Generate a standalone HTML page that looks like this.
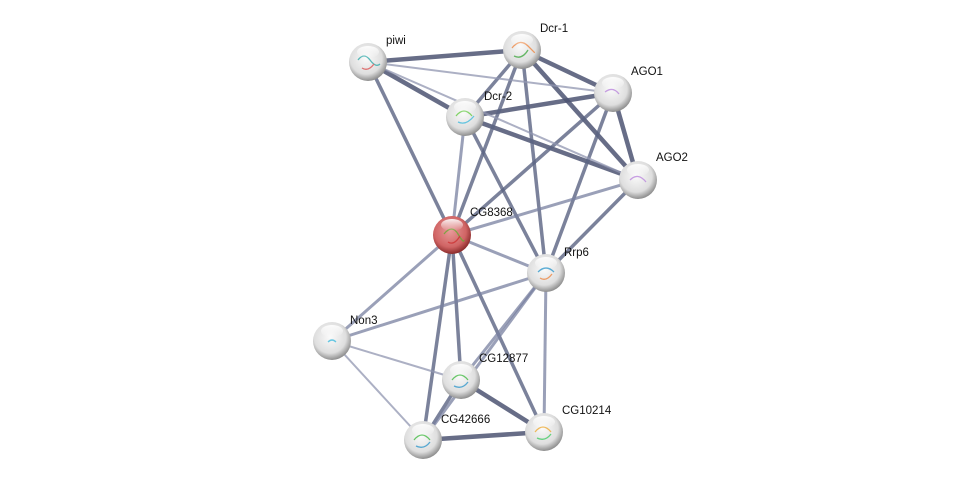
<!DOCTYPE html>
<html><head><meta charset="utf-8"><style>
html,body{margin:0;padding:0;background:#fff;width:976px;height:486px;overflow:hidden}
svg{display:block}
text{font-family:"Liberation Sans",sans-serif;font-size:11.5px;fill:#111}
</style></head><body>
<svg width="976" height="486" viewBox="0 0 976 486" xmlns="http://www.w3.org/2000/svg">
<defs>
<radialGradient id="g" cx="0.45" cy="0.4" r="0.6">
<stop offset="0" stop-color="#fafafa"/><stop offset="0.7" stop-color="#dedede"/><stop offset="1" stop-color="#8e8e8e"/>
</radialGradient>
<radialGradient id="r" cx="0.45" cy="0.4" r="0.6">
<stop offset="0" stop-color="#e89a9a"/><stop offset="0.7" stop-color="#d06464"/><stop offset="1" stop-color="#8a2a2a"/>
</radialGradient>
<linearGradient id="hl" x1="0" y1="0" x2="0" y2="1">
<stop offset="0" stop-color="#fff" stop-opacity="0.9"/><stop offset="1" stop-color="#fff" stop-opacity="0"/>
</linearGradient>
</defs>
<g stroke-linecap="butt">
<g stroke="#4c5472" stroke-opacity="0.85" stroke-width="4.5">
<line x1="368" y1="62" x2="522" y2="50"/>
<line x1="368" y1="62" x2="465" y2="117"/>
<line x1="465" y1="117" x2="613" y2="93"/>
<line x1="465" y1="117" x2="638" y2="180"/>
<line x1="522" y1="50" x2="613" y2="93"/>
<line x1="522" y1="50" x2="638" y2="180"/>
<line x1="613" y1="93" x2="638" y2="180"/>
<line x1="461" y1="380" x2="544" y2="432"/>
<line x1="423" y1="440" x2="544" y2="432"/>
</g>
<g stroke="#5a6382" stroke-opacity="0.8" stroke-width="3.5">
<line x1="368" y1="62" x2="452" y2="235"/>
<line x1="522" y1="50" x2="465" y2="117"/>
<line x1="522" y1="50" x2="452" y2="235"/>
<line x1="522" y1="50" x2="546" y2="273"/>
<line x1="613" y1="93" x2="452" y2="235"/>
<line x1="613" y1="93" x2="546" y2="273"/>
<line x1="465" y1="117" x2="546" y2="273"/>
<line x1="638" y1="180" x2="546" y2="273"/>
<line x1="452" y1="235" x2="423" y2="440"/>
<line x1="452" y1="235" x2="461" y2="380"/>
<line x1="452" y1="235" x2="544" y2="432"/>
<line x1="461" y1="380" x2="423" y2="440"/>
</g>
<g stroke="#7880a0" stroke-opacity="0.75" stroke-width="3">
<line x1="465" y1="117" x2="452" y2="235"/>
<line x1="638" y1="180" x2="452" y2="235"/>
<line x1="452" y1="235" x2="546" y2="273"/>
<line x1="546" y1="273" x2="332" y2="341"/>
<line x1="546" y1="273" x2="461" y2="380"/>
<line x1="546" y1="273" x2="423" y2="440"/>
<line x1="546" y1="273" x2="544" y2="432"/>
<line x1="452" y1="235" x2="332" y2="341"/>
</g>
<g stroke="#9096b0" stroke-opacity="0.75" stroke-width="2">
<line x1="368" y1="62" x2="613" y2="93"/>
<line x1="368" y1="62" x2="638" y2="180"/>
<line x1="332" y1="341" x2="461" y2="380"/>
<line x1="332" y1="341" x2="423" y2="440"/>
</g>
</g>
<g>
<circle cx="368" cy="62" r="19" fill="url(#g)"/>
<circle cx="522" cy="50" r="19" fill="url(#g)"/>
<circle cx="613" cy="93" r="19" fill="url(#g)"/>
<circle cx="465" cy="117" r="19" fill="url(#g)"/>
<circle cx="638" cy="180" r="19" fill="url(#g)"/>
<circle cx="452" cy="235" r="19" fill="url(#r)"/>
<circle cx="546" cy="273" r="19" fill="url(#g)"/>
<circle cx="332" cy="341" r="19" fill="url(#g)"/>
<circle cx="461" cy="380" r="19" fill="url(#g)"/>
<circle cx="423" cy="440" r="19" fill="url(#g)"/>
<circle cx="544" cy="432" r="19" fill="url(#g)"/>
</g>
<g fill="none" stroke-width="1.3" opacity="0.8">
<path d="M358 60 q6 -8 12 0 t10 4" stroke="#3aa"/><path d="M362 68 q6 4 12 -4" stroke="#d55"/>
<path d="M512 48 q8 -10 16 -2 t6 6" stroke="#e84"/><path d="M514 56 q8 4 14 -6" stroke="#4a4"/>
<path d="M605 92 q8 -6 14 2" stroke="#b8d"/>
<path d="M456 116 q8 -10 16 0" stroke="#6c4"/><path d="M458 122 q8 4 16 -6" stroke="#4bd"/>
<path d="M630 180 q8 -8 16 2" stroke="#b8d"/>
<path d="M444 234 q8 -10 14 0 t6 6" stroke="#6a3"/><path d="M448 242 q6 4 12 -6" stroke="#c33"/>
<path d="M538 272 q8 -8 16 0" stroke="#39c"/><path d="M540 278 q6 4 12 -4" stroke="#e84"/>
<path d="M328 342 q4 -4 8 0" stroke="#4bd"/>
<path d="M452 380 q8 -10 16 0" stroke="#4b4"/><path d="M454 386 q8 4 14 -4" stroke="#39c"/>
<path d="M414 440 q8 -10 16 0" stroke="#4b4"/><path d="M416 446 q8 4 14 -4" stroke="#39c"/>
<path d="M535 432 q8 -10 16 0" stroke="#ea3"/><path d="M537 438 q8 4 14 -4" stroke="#4c6"/>
</g>
<g fill="url(#hl)">
<ellipse cx="368" cy="52" rx="11" ry="6"/><ellipse cx="522" cy="40" rx="11" ry="6"/>
<ellipse cx="613" cy="83" rx="11" ry="6"/><ellipse cx="465" cy="107" rx="11" ry="6"/>
<ellipse cx="638" cy="170" rx="11" ry="6"/><ellipse cx="452" cy="225" rx="11" ry="6"/>
<ellipse cx="546" cy="263" rx="11" ry="6"/><ellipse cx="332" cy="331" rx="11" ry="6"/>
<ellipse cx="461" cy="370" rx="11" ry="6"/><ellipse cx="423" cy="430" rx="11" ry="6"/>
<ellipse cx="544" cy="422" rx="11" ry="6"/>
</g>
<text x="386" y="44">piwi</text>
<text x="540" y="32">Dcr-1</text>
<text x="631" y="75">AGO1</text>
<text x="484" y="100">Dcr-2</text>
<text x="656" y="161">AGO2</text>
<text x="470" y="216">CG8368</text>
<text x="564" y="256">Rrp6</text>
<text x="350" y="324">Non3</text>
<text x="479" y="362">CG12877</text>
<text x="441" y="423">CG42666</text>
<text x="562" y="414">CG10214</text>
</svg>
</body></html>
